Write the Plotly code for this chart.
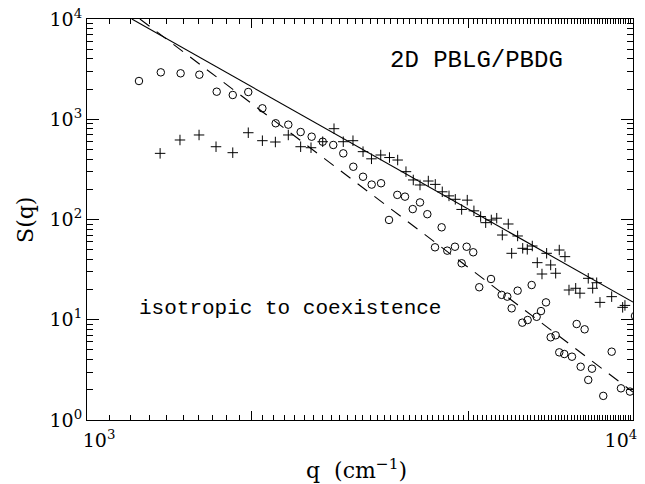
import plotly.graph_objects as go

# ---- data ----
circle_q = [1245, 1365, 1484, 1606, 1728, 1849, 1974, 2095, 2216, 2337, 2462, 2579, 2702, 2825,
            2947, 3074, 3203, 3322, 3456, 3574, 3701, 3823, 3950, 4073, 4201, 4339, 4462, 4569,
            4720, 4855, 4958, 5098, 5229, 5495, 5747, 5885, 5995, 6148, 6270, 6413, 6523, 6661,
            6784, 6929, 7068, 7218, 7328, 7485, 7731, 7886, 8020, 8156, 8281, 8412, 8822, 9141,
            9506, 9874, 10085]
circle_S = [2407, 2938, 2873, 2782, 1883, 1746, 1870, 1286, 912, 883, 746, 670, 597, 554,
            457, 336, 267, 223, 230, 99, 176, 169, 127, 148, 113, 52.8, 83.6, 48.9,
            53.5, 36.6, 53.5, 47.1, 21.1, 25.5, 17.7, 17.0, 13.0, 19.5, 9.35, 9.94, 22.2, 10.7,
            12.2, 14.9, 6.68, 7.0, 4.73, 4.55, 4.28, 9.07, 3.40, 8.03, 2.51, 3.25, 1.74, 4.80,
            2.07, 1.92, 10.9]

plus_q = [1361, 1480, 1604, 1723, 1849, 1974, 2095, 2213, 2337, 2462, 2572, 2702, 2834, 2947,
          3070, 3203, 3319, 3451, 3581, 3707, 3839, 3959, 4073, 4218, 4344, 4474, 4603, 4727,
          4855, 4971, 5113, 5260, 5373, 5502, 5629, 5763, 5910, 5995, 6148, 6281, 6403, 6540,
          6679, 6813, 6948, 7068, 7218, 7328, 7507, 7635, 7854, 7996, 8281, 8437, 8581, 8701,
          9141, 9574, 9667]
plus_S = [457, 621, 697, 532, 464, 734, 611, 593, 697, 532, 520, 597, 805, 597,
          611, 475, 403, 440, 415, 392, 300, 248, 221, 242, 224, 189, 172, 159,
          126, 156, 122, 107, 93, 99, 103, 70, 90.2, 46.0, 68.5, 51.6, 50.4, 54.4,
          37.1, 28.6, 46.0, 35.2, 29.1, 49.6, 42.6, 19.8, 20.6, 18.4, 25.9, 20.6, 23.4, 14.9,
          17.0, 13.3, 13.9]

solid_q = [1208, 10000]
solid_S = [10000, 15.0]
dashed_q = [1250, 10000]
dashed_S = [10000, 1.9]

NB = "\u00a0" * 4
x_major = [1000, 2000, 5000, 10000]
x_major_text = [NB + "10<sup>3</sup>", "", "", "10<sup>4</sup>" + NB]
x_minor = [v for v in range(1100, 10000, 100) if v not in (2000, 5000)]
y_major = [1, 10, 100, 1000, 10000]
y_major_text = ["10<sup>0</sup>", "10<sup>1</sup>", "10<sup>2</sup>", "10<sup>3</sup>", "10<sup>4</sup>"]
y_minor = [m * 10 ** d for d in range(0, 4) for m in range(2, 10)]

FONT = "DejaVu Serif"
TEXTFONT = "Liberation Mono"
XR = [2.99995, 4.00005]
YR = [-0.00005, 4.00005]
TC = "black"

fig = go.Figure()
fig.add_trace(go.Scatter(x=solid_q, y=solid_S, mode="lines",
                         line=dict(color="black", width=1.1), showlegend=False))
fig.add_trace(go.Scatter(x=dashed_q, y=dashed_S, mode="lines",
                         line=dict(color="black", width=1.1, dash="12px,9px"), showlegend=False))
fig.add_trace(go.Scatter(x=circle_q, y=circle_S, mode="markers",
                         marker=dict(symbol="circle-open", size=7.5, color="black",
                                     line=dict(width=1, color="black")),
                         showlegend=False))
fig.add_trace(go.Scatter(x=plus_q, y=plus_S, mode="markers",
                         marker=dict(symbol="cross-thin-open", size=7.5, color="black",
                                     line=dict(width=1, color="black")),
                         showlegend=False))

common = dict(type="log", showgrid=False, zeroline=False, showline=True, automargin=False,
              linecolor="black", linewidth=1.2, mirror="allticks")

fig.update_layout(
    xaxis=dict(**common, range=XR, tickmode="array", tickvals=x_major, ticktext=x_major_text,
               ticks="inside", ticklen=9, tickwidth=1, tickcolor=TC,
               ticklabeloverflow="allow", ticklabelstandoff=3,
               tickfont=dict(family=FONT, size=19, color="black"),
               minor=dict(tickmode="array", tickvals=x_minor, ticks="inside", ticklen=5,
                          tickwidth=1, tickcolor=TC, showgrid=False)),
    yaxis=dict(**common, range=YR, tickmode="array", tickvals=y_major, ticktext=y_major_text,
               ticks="inside", ticklen=12, tickwidth=1, tickcolor=TC,
               tickfont=dict(family=FONT, size=19, color="black"),
               minor=dict(tickmode="array", tickvals=y_minor, ticks="inside", ticklen=6,
                          tickwidth=1, tickcolor=TC, showgrid=False)),
)

fig.add_annotation(text="2D PBLG/PBDG", xref="paper", yref="paper", x=0.7125, y=0.8965,
                   xanchor="center", yanchor="middle", showarrow=False,
                   font=dict(family=TEXTFONT, size=24, color="black"))
fig.add_annotation(text="isotropic to coexistence", xref="paper", yref="paper", x=0.3718, y=0.279,
                   xanchor="center", yanchor="middle", showarrow=False,
                   font=dict(family=TEXTFONT, size=21, color="black"))
fig.add_annotation(text="q  (cm<sup>−1</sup>)", xref="paper", yref="paper", x=0.4945, y=-0.122,
                   xanchor="center", yanchor="middle", showarrow=False,
                   font=dict(family=FONT, size=22, color="black"))
fig.add_annotation(text="S(q)", xref="paper", yref="paper", x=-0.1117, y=0.499, textangle=-90,
                   xanchor="center", yanchor="middle", showarrow=False,
                   font=dict(family=FONT, size=22, color="black"))

fig.update_layout(width=645, height=484, margin=dict(l=87, r=12, t=19, b=64),
                  paper_bgcolor="white", plot_bgcolor="white")

fig.write_html("out.html")
